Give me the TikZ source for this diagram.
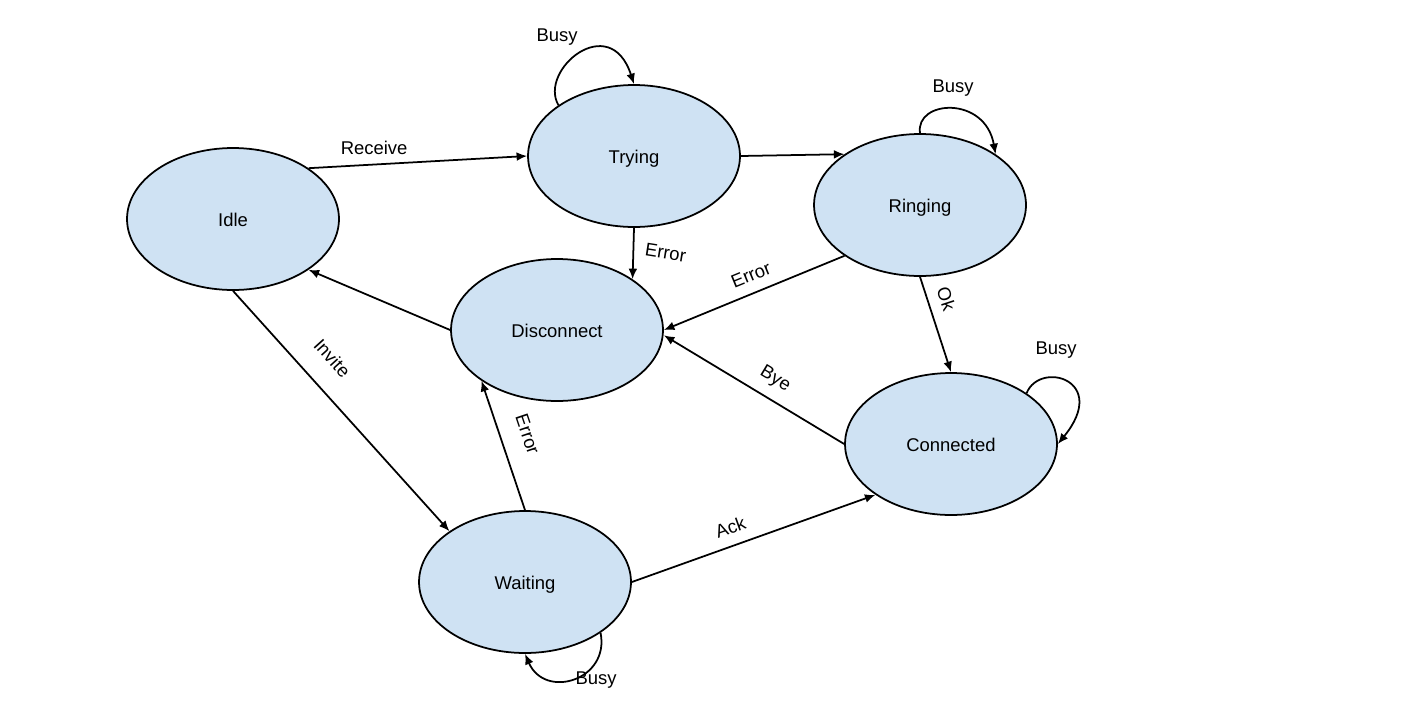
\documentclass[tikz,border=0pt]{standalone}
\usepackage{fontspec}
\setmainfont{Liberation Sans}
\usetikzlibrary{arrows.meta,shapes.geometric}
\definecolor{statefill}{HTML}{CFE2F3}
\begin{document}
\begin{tikzpicture}
[x=0.02cm,y=-0.02cm,line width=1pt,>={Latex[length=6pt,width=5pt]},%
  every node/.style={font=\fontsize{10.5}{12}\selectfont},
  state/.style={shape=ellipse,draw,fill=statefill,line width=1pt,
    minimum width=4.24cm,minimum height=2.84cm,inner sep=0pt,
    text height=0.95em,text depth=0.1em},
  lab/.style={sloped,above=6pt,inner sep=0pt}]
\useasboundingbox (0,0) rectangle (1405,700);
% states
\node[state] (idle) at (233,219) {Idle};
\node[state] (trying) at (634,156) {Trying};
\node[state] (ringing) at (920,205) {Ringing};
\node[state] (disconnect) at (557,330) {Disconnect};
\node[state] (connected) at (951,444) {Connected};
\node[state] (waiting) at (525,582) {Waiting};
% transitions
\draw[->] (idle.north east) -- node[pos=0.3,above=2pt] {Receive} (trying.west);
\draw[->] (trying.south) -- node[pos=0.4,right=3pt,rotate=-9] {Error} (disconnect.north east);
\draw[->] (trying.east) -- (ringing.north west);
\draw[->] (ringing.south west) -- node[lab,pos=0.48] {Error} (disconnect.east);
\draw[->] (ringing.south) -- node[lab,pos=0.29] {Ok} (connected.north);
\draw[->] (connected.west) -- node[lab,pos=0.44] {Bye} ([yshift=-3pt]disconnect.east);
\draw[->] (disconnect.west) -- (idle.south east);
\draw[->] (idle.south) -- node[lab,above=6pt,pos=0.36] {Invite} (waiting.north west);
\draw[->] (waiting.north) -- node[lab,above=5pt,pos=0.52] {Error} (disconnect.south west);
\draw[->] (waiting.east) -- node[lab,pos=0.43] {Ack} (connected.south west);
% busy loops
\draw[->] (trying.north west) .. controls (538,70) and (610,10) .. (trying.north);
\node (busy1) at (557,37) {Busy};
\draw[->] (ringing.north) .. controls (915,100) and (985,95) .. (ringing.north east);
\node (busy2) at (953,88) {Busy};
\draw[->] (connected.north east) .. controls (1040,360) and (1110,380) .. (connected.east);
\node (busy3) at (1056,350) {Busy};
\draw[->] (waiting.south east) .. controls (610,680) and (545,700) .. (waiting.south);
\node (busy4) at (596,680) {Busy};
\end{tikzpicture}
\end{document}
